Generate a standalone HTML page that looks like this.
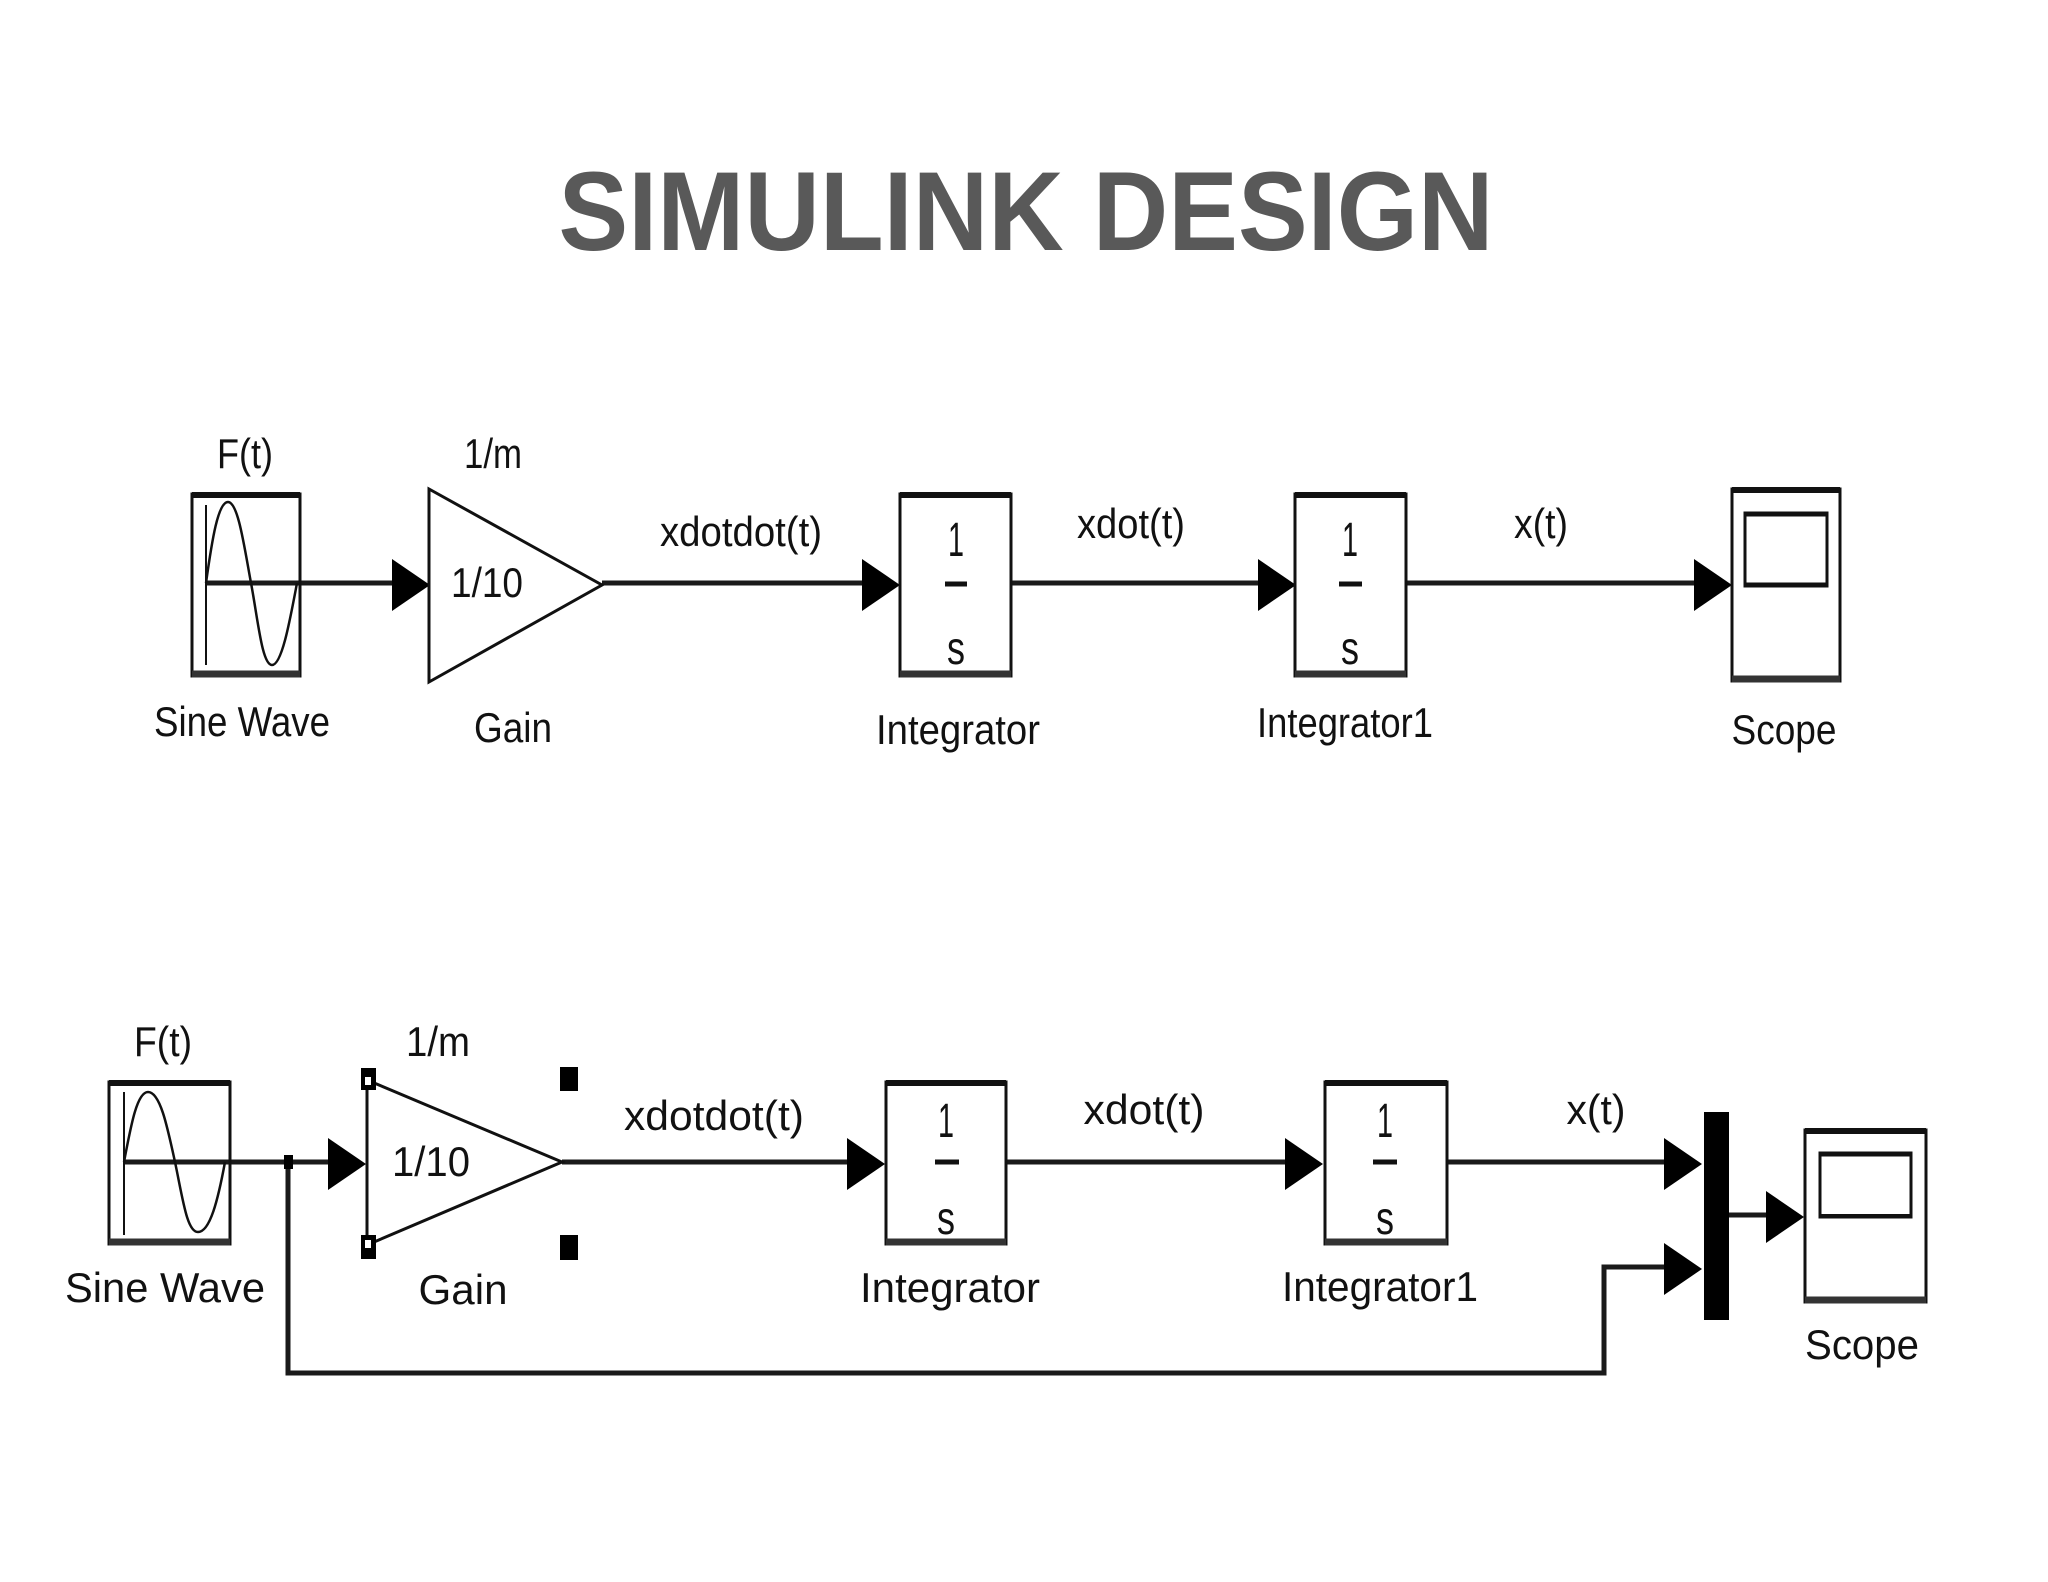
<!DOCTYPE html>
<html><head><meta charset="utf-8"><style>
html,body{margin:0;padding:0;background:#fff;}
svg{display:block;}
text{font-family:"Liberation Sans",sans-serif;fill:#111;}
</style></head><body>
<svg width="2048" height="1582" viewBox="0 0 2048 1582" xmlns="http://www.w3.org/2000/svg">
<defs>
<g id="arrow"><polygon points="0,-26 38,0 0,26" fill="#000"/></g>
</defs>
<text x="1026" y="250" text-anchor="middle" font-weight="bold" font-size="112" style="fill:#595959" textLength="935" lengthAdjust="spacingAndGlyphs">SIMULINK DESIGN</text>

<!-- ===== TOP ROW ===== -->
<g stroke="#1a1a1a" stroke-width="5" fill="none">
<line x1="206" y1="583" x2="392" y2="583"/>
<line x1="602" y1="583" x2="862" y2="583"/>
<line x1="1012" y1="583" x2="1258" y2="583"/>
<line x1="1406" y1="583" x2="1694" y2="583"/>
</g>
<use href="#arrow" x="392" y="585"/>
<use href="#arrow" x="862" y="585"/>
<use href="#arrow" x="1258" y="585"/>
<use href="#arrow" x="1694" y="585"/>

<!-- sine block -->
<rect x="192" y="494" width="108" height="182" fill="none" stroke="#111" stroke-width="3"/>
<line x1="192" y1="495" x2="300" y2="495" stroke="#111" stroke-width="6"/>
<line x1="192" y1="674" x2="300" y2="674" stroke="#333" stroke-width="7"/>
<line x1="206" y1="505" x2="206" y2="665" stroke="#111" stroke-width="2"/>
<path d="M206,583 C212,540 218,502 228,502 C238,502 244,545 251,583 C258,620 262,665 272,665 C282,665 290,620 297,583" fill="none" stroke="#111" stroke-width="2.5"/>
<!-- gain -->
<polygon points="429,489 602,585 429,682" fill="#fff" stroke="#111" stroke-width="3"/>
<!-- integrator -->
<rect x="900" y="494" width="111" height="182" fill="none" stroke="#111" stroke-width="3"/>
<line x1="900" y1="495" x2="1011" y2="495" stroke="#111" stroke-width="6"/>
<line x1="900" y1="674" x2="1011" y2="674" stroke="#333" stroke-width="7"/>
<line x1="945" y1="584" x2="967" y2="584" stroke="#111" stroke-width="5"/>
<text x="956" y="556" text-anchor="middle" font-size="48" textLength="16" lengthAdjust="spacingAndGlyphs">1</text>
<text x="956" y="664" text-anchor="middle" font-size="46" textLength="18" lengthAdjust="spacingAndGlyphs">s</text>
<!-- integrator1 -->
<rect x="1295" y="494" width="111" height="182" fill="none" stroke="#111" stroke-width="3"/>
<line x1="1295" y1="495" x2="1406" y2="495" stroke="#111" stroke-width="6"/>
<line x1="1295" y1="674" x2="1406" y2="674" stroke="#333" stroke-width="7"/>
<line x1="1339" y1="584" x2="1362" y2="584" stroke="#111" stroke-width="5"/>
<text x="1350" y="556" text-anchor="middle" font-size="48" textLength="16" lengthAdjust="spacingAndGlyphs">1</text>
<text x="1350" y="664" text-anchor="middle" font-size="46" textLength="18" lengthAdjust="spacingAndGlyphs">s</text>
<!-- scope -->
<rect x="1732" y="489" width="108" height="192" fill="none" stroke="#111" stroke-width="3"/>
<line x1="1732" y1="490" x2="1840" y2="490" stroke="#111" stroke-width="6"/>
<line x1="1732" y1="679" x2="1840" y2="679" stroke="#333" stroke-width="7"/>
<rect x="1745" y="513" width="82" height="73" fill="none" stroke="#111" stroke-width="3"/>
<line x1="1745" y1="514" x2="1827" y2="514" stroke="#111" stroke-width="5"/>
<line x1="1745" y1="585" x2="1827" y2="585" stroke="#111" stroke-width="5"/>

<g font-size="42">
<text x="245" y="468" text-anchor="middle" textLength="56" lengthAdjust="spacingAndGlyphs">F(t)</text>
<text x="493" y="468" text-anchor="middle" textLength="58" lengthAdjust="spacingAndGlyphs">1/m</text>
<text x="487" y="597" text-anchor="middle" textLength="72" lengthAdjust="spacingAndGlyphs">1/10</text>
<text x="741" y="546" text-anchor="middle" textLength="162" lengthAdjust="spacingAndGlyphs">xdotdot(t)</text>
<text x="1131" y="538" text-anchor="middle" textLength="108" lengthAdjust="spacingAndGlyphs">xdot(t)</text>
<text x="1541" y="538" text-anchor="middle" textLength="54" lengthAdjust="spacingAndGlyphs">x(t)</text>
<text x="242" y="736" text-anchor="middle" textLength="176" lengthAdjust="spacingAndGlyphs">Sine Wave</text>
<text x="513" y="742" text-anchor="middle" textLength="78" lengthAdjust="spacingAndGlyphs">Gain</text>
<text x="958" y="744" text-anchor="middle" textLength="164" lengthAdjust="spacingAndGlyphs">Integrator</text>
<text x="1345" y="737" text-anchor="middle" textLength="176" lengthAdjust="spacingAndGlyphs">Integrator1</text>
<text x="1784" y="744" text-anchor="middle" textLength="105" lengthAdjust="spacingAndGlyphs">Scope</text>
</g>

<!-- ===== BOTTOM ROW ===== -->
<g stroke="#1a1a1a" stroke-width="5" fill="none">
<line x1="124" y1="1162" x2="328" y2="1162"/>
<line x1="562" y1="1162" x2="847" y2="1162"/>
<line x1="1006" y1="1162" x2="1285" y2="1162"/>
<line x1="1448" y1="1162" x2="1664" y2="1162"/>
<polyline points="288,1162 288,1373 1604,1373 1604,1267 1664,1267"/>
<line x1="1729" y1="1215" x2="1766" y2="1215"/>
</g>
<rect x="284" y="1155" width="9" height="14" fill="#000"/>
<use href="#arrow" x="328" y="1164"/>
<use href="#arrow" x="847" y="1164"/>
<use href="#arrow" x="1285" y="1164"/>
<use href="#arrow" x="1664" y="1164"/>
<use href="#arrow" x="1664" y="1269"/>
<use href="#arrow" x="1766" y="1217"/>
<rect x="1704" y="1112" width="25" height="208" fill="#000"/>

<!-- sine block -->
<rect x="109" y="1082" width="121" height="162" fill="none" stroke="#111" stroke-width="3"/>
<line x1="109" y1="1083" x2="230" y2="1083" stroke="#111" stroke-width="6"/>
<line x1="109" y1="1242" x2="230" y2="1242" stroke="#333" stroke-width="7"/>
<line x1="124" y1="1092" x2="124" y2="1235" stroke="#111" stroke-width="2"/>
<path d="M124,1162 C131,1125 137,1092 148,1092 C160,1092 167,1125 175,1162 C183,1200 187,1232 198,1232 C210,1232 218,1200 225,1162" fill="none" stroke="#111" stroke-width="2.5"/>
<!-- gain -->
<polygon points="367,1080 562,1162 367,1245" fill="#fff" stroke="#111" stroke-width="3"/>
<rect x="361" y="1068" width="15" height="22" fill="#000"/>
<rect x="365" y="1077" width="6" height="8" fill="#fff"/>
<rect x="361" y="1235" width="15" height="24" fill="#000"/>
<rect x="365" y="1240" width="6" height="8" fill="#fff"/>
<rect x="560" y="1067" width="18" height="24" fill="#000"/>
<rect x="560" y="1235" width="18" height="25" fill="#000"/>
<!-- integrator -->
<rect x="886" y="1082" width="120" height="162" fill="none" stroke="#111" stroke-width="3"/>
<line x1="886" y1="1083" x2="1006" y2="1083" stroke="#111" stroke-width="6"/>
<line x1="886" y1="1242" x2="1006" y2="1242" stroke="#333" stroke-width="7"/>
<line x1="935" y1="1162" x2="959" y2="1162" stroke="#111" stroke-width="5"/>
<text x="946" y="1137" text-anchor="middle" font-size="48" textLength="16" lengthAdjust="spacingAndGlyphs">1</text>
<text x="946" y="1234" text-anchor="middle" font-size="46" textLength="18" lengthAdjust="spacingAndGlyphs">s</text>
<!-- integrator1 -->
<rect x="1325" y="1082" width="122" height="162" fill="none" stroke="#111" stroke-width="3"/>
<line x1="1325" y1="1083" x2="1447" y2="1083" stroke="#111" stroke-width="6"/>
<line x1="1325" y1="1242" x2="1447" y2="1242" stroke="#333" stroke-width="7"/>
<line x1="1373" y1="1162" x2="1397" y2="1162" stroke="#111" stroke-width="5"/>
<text x="1385" y="1137" text-anchor="middle" font-size="48" textLength="16" lengthAdjust="spacingAndGlyphs">1</text>
<text x="1385" y="1234" text-anchor="middle" font-size="46" textLength="18" lengthAdjust="spacingAndGlyphs">s</text>
<!-- scope -->
<rect x="1805" y="1130" width="121" height="172" fill="none" stroke="#111" stroke-width="3"/>
<line x1="1805" y1="1131" x2="1926" y2="1131" stroke="#111" stroke-width="6"/>
<line x1="1805" y1="1300" x2="1926" y2="1300" stroke="#333" stroke-width="7"/>
<rect x="1820" y="1153" width="91" height="64" fill="none" stroke="#111" stroke-width="3"/>
<line x1="1820" y1="1154" x2="1911" y2="1154" stroke="#111" stroke-width="5"/>
<line x1="1820" y1="1216" x2="1911" y2="1216" stroke="#111" stroke-width="4"/>

<g font-size="42">
<text x="163" y="1056" text-anchor="middle" textLength="58" lengthAdjust="spacingAndGlyphs">F(t)</text>
<text x="438" y="1056" text-anchor="middle" textLength="64" lengthAdjust="spacingAndGlyphs">1/m</text>
<text x="431" y="1176" text-anchor="middle" textLength="78" lengthAdjust="spacingAndGlyphs">1/10</text>
<text x="714" y="1130" text-anchor="middle" textLength="180" lengthAdjust="spacingAndGlyphs">xdotdot(t)</text>
<text x="1144" y="1124" text-anchor="middle" textLength="121" lengthAdjust="spacingAndGlyphs">xdot(t)</text>
<text x="1596" y="1124" text-anchor="middle" textLength="59" lengthAdjust="spacingAndGlyphs">x(t)</text>
<text x="165" y="1302" text-anchor="middle" textLength="200" lengthAdjust="spacingAndGlyphs">Sine Wave</text>
<text x="463" y="1304" text-anchor="middle" textLength="89" lengthAdjust="spacingAndGlyphs">Gain</text>
<text x="950" y="1302" text-anchor="middle" textLength="180" lengthAdjust="spacingAndGlyphs">Integrator</text>
<text x="1380" y="1301" text-anchor="middle" textLength="196" lengthAdjust="spacingAndGlyphs">Integrator1</text>
<text x="1862" y="1359" text-anchor="middle" textLength="114" lengthAdjust="spacingAndGlyphs">Scope</text>
</g>
</svg>
</body></html>
